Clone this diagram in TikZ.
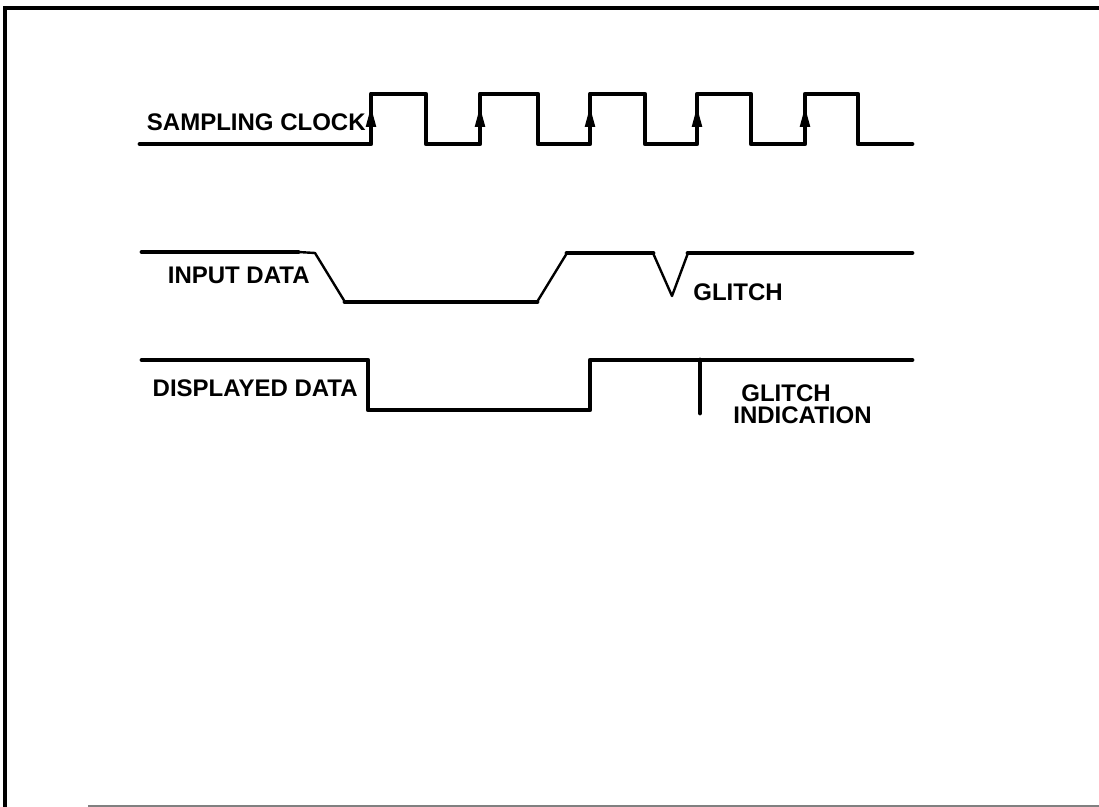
\documentclass[tikz,border=0pt]{standalone}
\usepackage{fontspec}
\setmainfont{Liberation Sans}
\usepackage{tikz}
\usetikzlibrary{arrows.meta, positioning}
\tikzset{
  sig/.style={line width=2.4pt, line join=round, line cap=round},
  ramp/.style={line width=1.2pt, line join=round},
  edgearr/.style={-{Triangle[length=10pt, width=5pt]}, line width=1.2pt},
  lbl/.style={font=\fontsize{12}{13}\selectfont\bfseries, inner sep=0pt},
}

\begin{document}
\begin{tikzpicture}[x=0.5pt, y=-0.5pt]
    \useasboundingbox (0,0) rectangle (1099,807);

    % ─── frame ──────────────────────────────────────────────
    \draw[line width=2.4pt] (1099,8) -- (5,8) -- (5,807);
    \draw[gray, line width=0.8pt] (88,806) -- (1099,806);

    % ─── sampling clock ─────────────────────────────────────
    \node[lbl, anchor=east] (clk) at (366,122) {SAMPLING CLOCK};
    \draw[sig] (140,144) -- (371,144) -- (371,94) -- (426,94) -- (426,144)
               -- (480,144) -- (480,94) -- (538,94) -- (538,144)
               -- (590,144) -- (590,94) -- (645,94) -- (645,144)
               -- (697,144) -- (697,94) -- (751,94) -- (751,144)
               -- (805,144) -- (805,94) -- (858,94) -- (858,144) -- (912,144);
    \foreach \x in {371, 480, 590, 697, 805}
      \draw[edgearr] (\x,134) -- (\x,107);

    % ─── input data ─────────────────────────────────────────
    \node[lbl, anchor=east] (din) at (310,275) {INPUT DATA};
    \draw[sig] (142,252) -- (298,252);
    \draw[ramp] (298,252) -- (315,253) -- (345,302);
    \draw[sig] (345,302) -- (537,302);
    \draw[ramp] (537,302) -- (567,253);
    \draw[sig] (567,253) -- (653,253);
    \draw[ramp] (653,253) -- (672,296) -- (688,253);
    \draw[sig] (688,253) -- (912,253);
    \node[lbl, anchor=west] (gl) at (693,292) {GLITCH};

    % ─── displayed data ─────────────────────────────────────
    \node[lbl, anchor=east] (dsp) at (358,388) {DISPLAYED DATA};
    \draw[sig] (142,360) -- (368,360) -- (368,410) -- (590,410)
               -- (590,360) -- (912,360);
    \draw[sig] (700,360) -- (700,413);
    \node[lbl, anchor=north west, align=left] (gi) at (733,384)
      {\hspace*{4pt}GLITCH\\[-2pt]INDICATION};

\end{tikzpicture}
\end{document}
